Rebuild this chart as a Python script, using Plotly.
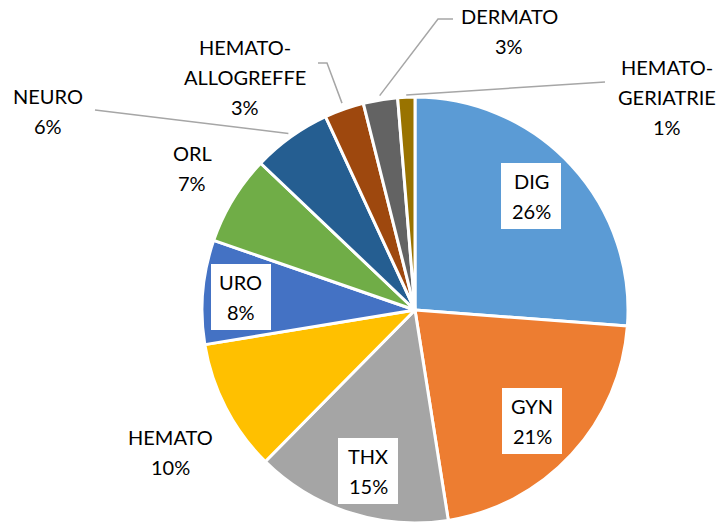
import numpy as np
import plotly.graph_objects as go

# ---- data ----
categories = ["DIG", "GYN", "THX", "HEMATO", "URO", "ORL", "NEURO",
              "HEMATO-<br>ALLOGREFFE", "DERMATO", "HEMATO-<br>GERIATRIE"]
values = [26.2, 21.3, 14.9, 10.0, 7.9, 6.8, 6.0, 3.0, 2.6, 1.3]

# ---- styles ----
colors = ["#5B9BD5", "#ED7D31", "#A5A5A5", "#FFC000", "#4472C4",
          "#70AD47", "#255E91", "#9E480E", "#636363", "#997300"]

W, H = 722, 524
CX, CY, R = 415, 310, 213  # pie centre / radius in pixels
LINE_H = 30                # label line spacing in pixels

# label centre positions (pixels) and whether a white box is drawn
label_pos = [(531, 196), (532, 421), (368, 471), (170, 452), (241, 297),
             (192, 168), (48, 111), (245, 77), (509, 31), (667, 97)]
label_box = [True, True, True, False, True, False, False, False, False, False]
# leader line start points near label (pixels), None = no leader
leader_start = [None, None, None, None, None, None,
                [(95, 110)], [(318, 63), (327, 63)], [(453, 19), (438, 19)],
                [(605, 82)]]
leader_r = [None] * 6 + [1.02, 1.03, 1.02, 1.01]

FONT = "Lato, 'Open Sans', sans-serif"


def px(x):
    return x / W


def py(y):
    return 1 - y / H


total = sum(values)
pcts = [f"{round(v / total * 100)}%" for v in values]
cum = np.cumsum([0] + values) / total
mid = (cum[:-1] + cum[1:]) / 2 * 2 * np.pi  # clockwise from 12 o'clock

fig = go.Figure(go.Pie(
    labels=[c.replace("<br>", "") for c in categories],
    values=values,
    sort=False,
    direction="clockwise",
    rotation=0,
    marker=dict(colors=colors, line=dict(color="white", width=3)),
    textinfo="none",
    hoverinfo="label+percent",
    showlegend=False,
    domain=dict(x=[px(CX - R), px(CX + R)], y=[py(CY + R), py(CY - R)]),
))

annotations = []
shapes = []
for i, (cat, pct) in enumerate(zip(categories, pcts)):
    x, y = label_pos[i]
    lines = cat.split("<br>") + [pct]
    n = len(lines)
    if label_box[i]:
        bw, bh = 60, n * LINE_H + 6
        shapes.append(dict(type="rect", xref="paper", yref="paper",
                           x0=px(x - bw / 2), x1=px(x + bw / 2),
                           y0=py(y + bh / 2), y1=py(y - bh / 2),
                           fillcolor="white", line=dict(width=0), layer="above"))
    for j, t in enumerate(lines):
        ly = y + (j - (n - 1) / 2) * LINE_H
        annotations.append(dict(
            x=px(x), y=py(ly), xref="paper", yref="paper",
            text=t, showarrow=False,
            font=dict(family=FONT, size=20, color="#000000"),
            xanchor="center", yanchor="middle", align="center",
        ))

for i, st in enumerate(leader_start):
    if st is None:
        continue
    ang = mid[i]
    ex = CX + R * leader_r[i] * np.sin(ang)
    ey = CY - R * leader_r[i] * np.cos(ang)
    pts = list(st) + [(ex, ey)]
    path = "M " + " L ".join(f"{px(p[0])},{py(p[1])}" for p in pts)
    shapes.append(dict(type="path", path=path, xref="paper", yref="paper",
                       line=dict(color="#A6A6A6", width=1.5)))

fig.update_layout(
    width=W, height=H,
    margin=dict(l=0, r=0, t=0, b=0),
    paper_bgcolor="white", plot_bgcolor="white",
    annotations=annotations, shapes=shapes,
)

fig.write_html("out.html", config={"displayModeBar": False},
               post_script="document.body.style.margin='0';document.body.style.overflow='hidden';")
